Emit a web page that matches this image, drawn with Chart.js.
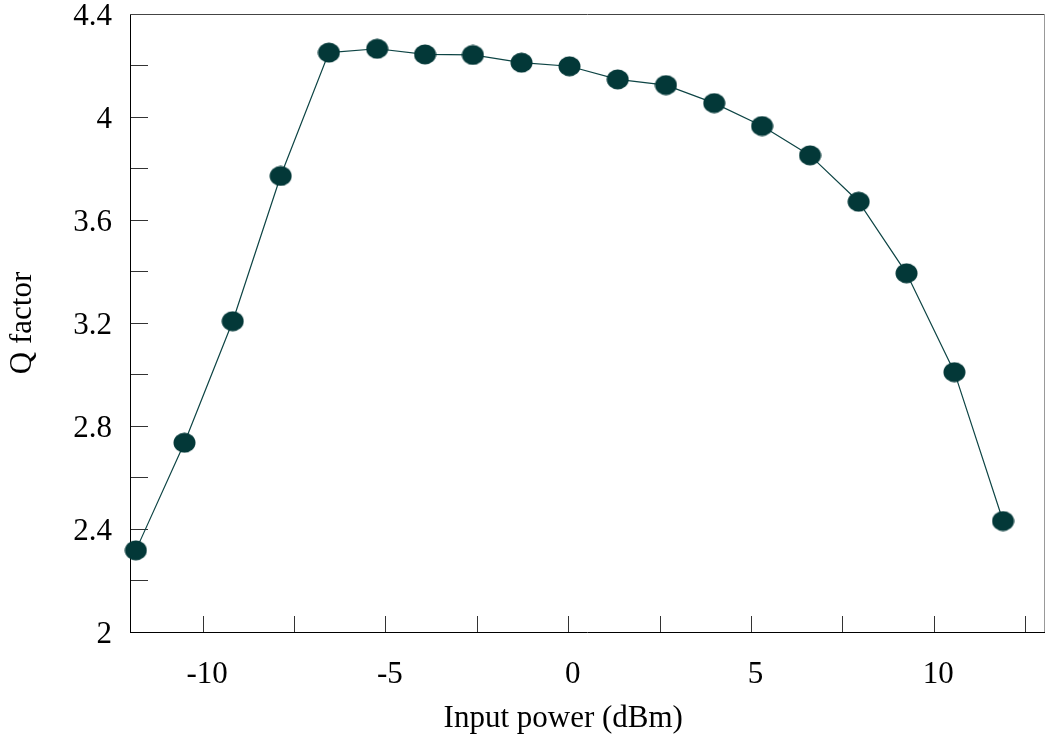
<!DOCTYPE html>
<html>
<head>
<meta charset="utf-8">
<script src="https://cdn.jsdelivr.net/npm/chart.js@4/dist/chart.umd.min.js"></script>
<style>
  html, body { margin: 0; padding: 0; background: #fff; }
  #wrap { width: 1045px; height: 737px; }
</style>
</head>
<body>
<div id="wrap"><canvas id="chart-q"></canvas></div>
<script>
// Q factor vs input power
const inputPower = [-11.84, -10.51, -9.19, -7.88, -6.56, -5.24, -3.93, -2.62, -1.29, 0.02,
  1.34, 2.66, 3.98, 5.29, 6.6, 7.93, 9.24, 10.55, 11.88];
const qFactor = [2.317, 2.735, 3.207, 3.771, 4.25, 4.265, 4.243, 4.241, 4.211, 4.197,
  4.146, 4.124, 4.054, 3.965, 3.851, 3.671, 3.393, 3.009, 2.431];
const xTicks = [-10, -7.5, -5, -2.5, 0, 2.5, 5, 7.5, 10, 12.5];
const yTicks = [2, 2.2, 2.4, 2.6, 2.8, 3, 3.2, 3.4, 3.6, 3.8, 4, 4.2, 4.4];

const serif = 'Liberation Serif, Times New Roman, serif';
const markColor = '#033838';

// ellipse marker, a bit wider than tall like the original
function ellipseMarker(w, h, color) {
  const c = document.createElement('canvas');
  c.width = w;
  c.height = h;
  const g = c.getContext('2d');
  g.fillStyle = color;
  g.beginPath();
  g.ellipse(w / 2, h / 2, w / 2 - 0.5, h / 2 - 0.5, 0, 0, Math.PI * 2);
  g.fill();
  return c;
}
const marker = ellipseMarker(23, 21, markColor);

const framePlugin = {
  id: 'frame',
  afterDraw(chart) {
    const { ctx, chartArea: a } = chart;
    ctx.save();
    ctx.lineWidth = 1;
    ctx.strokeStyle = '#444';
    ctx.beginPath();
    ctx.moveTo(a.left, a.top + 0.5);
    ctx.lineTo(a.right + 1, a.top + 0.5);
    ctx.stroke();
    ctx.strokeStyle = '#999';
    ctx.beginPath();
    ctx.moveTo(a.right + 0.5, a.top);
    ctx.lineTo(a.right + 0.5, a.bottom);
    ctx.stroke();
    // x axis title, sits a little left of centre in the original
    ctx.fillStyle = '#000';
    ctx.font = '31px ' + serif;
    ctx.textAlign = 'center';
    ctx.textBaseline = 'alphabetic';
    ctx.fillText('Input power (dBm)', a.left + a.width * 0.474, 727);
    ctx.restore();
  },
};

new Chart(document.getElementById('chart-q'), {
  type: 'line',
  data: {
    datasets: [{
      data: inputPower.map((x, i) => ({ x, y: qFactor[i] })),
      borderColor: '#0d4444',
      borderWidth: 1.2,
      tension: 0,
      pointStyle: marker,
      pointRadius: 11,
      pointHoverRadius: 11,
      clip: false,
    }],
  },
  options: {
    responsive: true,
    maintainAspectRatio: false,
    animation: false,
    events: [],
    layout: { padding: { top: 14, right: 1, left: 0, bottom: 0 }, autoPadding: false },
    plugins: { legend: { display: false }, tooltip: { enabled: false } },
    scales: {
      x: {
        type: 'linear',
        min: -12,
        max: 13,
        afterBuildTicks: s => { s.ticks = xTicks.map(v => ({ value: v })); },
        afterFit: s => {
          s.height = 105;
          s.paddingLeft = 0;
          s.paddingRight = 0;
        },
        border: { display: true, color: '#000', width: 1 },
        grid: { drawOnChartArea: false, drawTicks: true, tickLength: -16, tickColor: '#333' },
        ticks: {
          padding: 40,
          labelOffset: 4,
          maxRotation: 0,
          autoSkip: false,
          color: '#000',
          font: { family: serif, size: 31 },
          callback: v => (v % 5 === 0 ? String(v) : ''),
        },
      },
      y: {
        min: 2,
        max: 4.4,
        afterBuildTicks: s => { s.ticks = yTicks.map(v => ({ value: v })); },
        afterFit: s => {
          s.width = 130;
          s.paddingTop = 0;
          s.paddingBottom = 0;
        },
        border: { display: true, color: '#000', width: 1 },
        grid: { drawOnChartArea: false, drawTicks: true, tickLength: -18, tickColor: '#333' },
        ticks: {
          padding: 36,
          labelOffset: 3,
          autoSkip: false,
          color: '#000',
          font: { family: serif, size: 31 },
          callback: v => (Math.round(v * 10) % 4 === 0 ? String(Number(v.toFixed(1))) : ''),
        },
        title: {
          display: true,
          text: 'Q factor',
          color: '#000',
          font: { family: serif, size: 31 },
          padding: { top: 4, bottom: 0 },
        },
      },
    },
  },
  plugins: [framePlugin],
});
</script>
</body>
</html>
